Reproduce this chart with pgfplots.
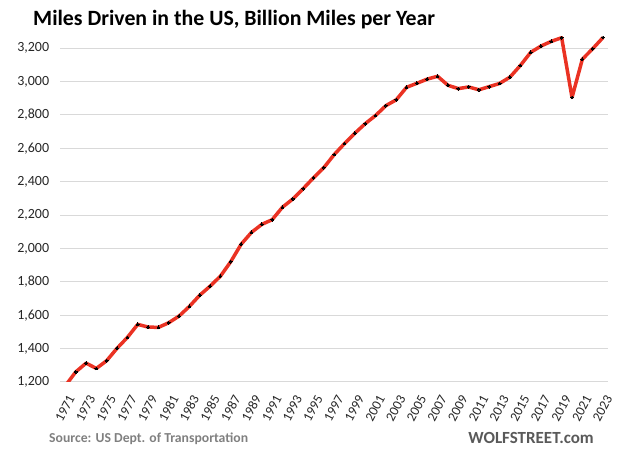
\documentclass[border=0pt]{standalone}
\usepackage{pgfplots}
\pgfplotsset{compat=1.18}
\usepackage{fontspec}
\setmainfont{Carlito}
\definecolor{linered}{RGB}{234,50,35}
\definecolor{gridgray}{RGB}{217,217,217}
\definecolor{srcgray}{RGB}{128,128,128}
\definecolor{wolfgray}{RGB}{89,89,89}
\begin{document}
\begin{tikzpicture}[x=1pt,y=1pt]
\useasboundingbox (0,0) rectangle (640,462);
\node[anchor=base west, inner sep=0, font=\bfseries\fontsize{21.8}{26}\selectfont] at (33,436) {Miles Driven in the US, Billion Miles per Year};
\node[anchor=base west, inner sep=0, text=srcgray, font=\bfseries\fontsize{13.7}{16}\selectfont] at (49,19) {Source: US Dept. of Transportation};
\node[anchor=base east, inner sep=0, text=wolfgray, font=\bfseries\fontsize{17}{20}\selectfont] at (594,18) {WOLFSTREET.com};
\begin{axis}[
  at={(60.2pt,80pt)}, anchor=south west,
  scale only axis, width=548pt, height=347.3pt,
  xmin=1970.5, xmax=2023.5, ymin=1200, ymax=3280,
  xtick={1971,1973,...,2023},
  ytick={1200,1400,...,3200},
  ymajorgrids, major grid style={draw=gridgray, line width=1pt},
  axis line style={draw=none}, major tick length=0pt,
  /pgf/number format/assume math mode=true,
  yticklabel style={/pgf/number format/1000 sep={,}, anchor=east, xshift=-7.5pt, font=\fontsize{14}{16}\selectfont, text=black!85},
  xticklabel style={/pgf/number format/1000 sep={}, xshift=2pt, yshift=-12pt, rotate=62, anchor=north east, inner sep=0pt, font=\fontsize{13.5}{16}\selectfont, text=black!85},
]
\addplot[color=linered, line width=3.5pt, line join=round, mark=*, mark size=1.4pt, mark options={draw=black, fill=black, line width=0pt}] coordinates {
(1971,1178) (1972,1260) (1973,1313) (1974,1281) (1975,1328) (1976,1402) (1977,1467) (1978,1545) (1979,1529) (1980,1527)
(1981,1555) (1982,1595) (1983,1653) (1984,1720) (1985,1774) (1986,1834) (1987,1921) (1988,2025) (1989,2096) (1990,2144)
(1991,2172) (1992,2247) (1993,2296) (1994,2358) (1995,2423) (1996,2484) (1997,2562) (1998,2628) (1999,2690) (2000,2747)
(2001,2796) (2002,2855) (2003,2890) (2004,2965) (2005,2989) (2006,3014) (2007,3031) (2008,2977) (2009,2957) (2010,2967)
(2011,2950) (2012,2969) (2013,2988) (2014,3026) (2015,3095) (2016,3174) (2017,3212) (2018,3240) (2019,3262) (2020,2904)
(2021,3133) (2022,3196) (2023,3263)
};
\end{axis}
\end{tikzpicture}
\end{document}
